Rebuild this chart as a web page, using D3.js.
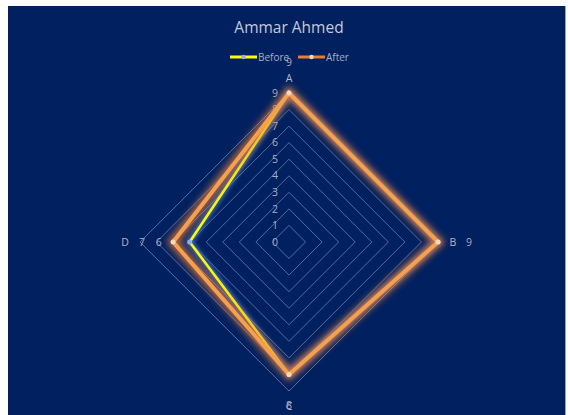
<!DOCTYPE html>
<html>
<head>
<meta charset="utf-8">
<script src="https://cdn.jsdelivr.net/npm/d3@7/dist/d3.min.js"></script>
<style>
  html, body { margin: 0; padding: 0; background: #ffffff; }
  svg { display: block; }
  text { font-family: "Open Sans", "Liberation Sans", sans-serif; }
</style>
</head>
<body>
<svg id="chart" width="568" height="415"></svg>
<script>
// Radar chart data
const categories = ["A", "B", "C", "D"];
const seriesNames = ["Before", "After"];
const beforeValues = [9, 9, 8, 6];
const afterValues = [9, 9, 8, 7];
const tickValues = [0, 1, 2, 3, 4, 5, 6, 7, 8, 9];
const chartTitle = "Ammar Ahmed";

const W = 568, H = 415;
const cx = 289, cy = 242;
const svg = d3.select("#chart");

// Glow filters
const defs = svg.append("defs");
function glow(id, dev) {
  const f = defs.append("filter").attr("id", id)
    .attr("x", "-20%").attr("y", "-20%").attr("width", "140%").attr("height", "140%");
  f.append("feGaussianBlur").attr("stdDeviation", dev);
}
glow("glowOrange", 3.5);
glow("glowBlue", 2.2);

// Chart background
svg.append("rect").attr("x", 8).attr("y", 6).attr("width", 557).attr("height", 415)
  .attr("fill", "#002060");
svg.append("line").attr("x1", 565.5).attr("x2", 565.5).attr("y1", 6).attr("y2", H)
  .attr("stroke", "#9aa3b8").attr("stroke-width", 1);

const r = d3.scaleLinear().domain([0, 9]).range([0, 149]);
const angle = d3.scalePoint().domain(categories).range([0, 2 * Math.PI * (categories.length - 1) / categories.length]);

function pt(cat, v, extra = 0) {
  const a = angle(cat) - Math.PI / 2;
  const d = r(v) + extra;
  return [cx + d * Math.cos(a), cy + d * Math.sin(a)];
}

// Gridlines
const gridLine = d3.line().curve(d3.curveLinearClosed);
svg.append("g").selectAll("path").data(tickValues.filter(t => t > 0)).join("path")
  .attr("d", t => gridLine(categories.map(c => pt(c, t))))
  .attr("fill", "none")
  .attr("stroke", "#8c9fcc")
  .attr("stroke-opacity", 0.6)
  .attr("stroke-width", 1);

// Tick labels along the A axis
svg.append("g").selectAll("text").data(tickValues).join("text")
  .attr("x", cx - 14)
  .attr("y", t => cy - r(t))
  .attr("dy", "0.35em")
  .attr("text-anchor", "middle")
  .attr("font-size", 10.5)
  .attr("fill", "#a6aec4")
  .text(t => t);

// Category labels
svg.append("g").selectAll("text").data(categories).join("text")
  .attr("x", c => pt(c, 9, 15)[0])
  .attr("y", c => pt(c, 9, 15)[1])
  .attr("dy", "0.35em")
  .attr("text-anchor", "middle")
  .attr("font-size", 10.5)
  .attr("fill", "#b0b8cc")
  .text(c => c);

const radarLine = d3.line().curve(d3.curveLinearClosed);
const series = [
  { name: "Before", values: beforeValues, core: "#ffff00", glowC: "#4f86d8", w: 2.5, gw: 6, filter: "glowBlue", marker: "#8fb0e0" },
  { name: "After", values: afterValues, core: "#f4a050", glowC: "#ed7d31", w: 4, gw: 10, filter: "glowOrange", marker: "#fbd9bd" }
];

series.forEach(s => {
  const pts = categories.map((c, i) => pt(c, s.values[i]));
  const g = svg.append("g");
  g.append("path").attr("d", radarLine(pts))
    .attr("fill", "none").attr("stroke", s.glowC).attr("stroke-width", s.gw)
    .attr("stroke-opacity", 0.75).attr("stroke-linejoin", "miter")
    .attr("filter", `url(#${s.filter})`);
  g.append("path").attr("d", radarLine(pts))
    .attr("fill", "none").attr("stroke", s.core).attr("stroke-width", s.w)
    .attr("stroke-linejoin", "miter");
  g.selectAll("circle").data(pts).join("circle")
    .attr("cx", d => d[0]).attr("cy", d => d[1]).attr("r", 2.5)
    .attr("fill", s.marker);
});

// Data labels offset outward from each point; where both series share a
// value the labels coincide, so the shared one is written once.
const labelItems = [];
categories.forEach((c, i) => {
  labelItems.push({ c, v: afterValues[i] });
  if (beforeValues[i] !== afterValues[i]) labelItems.push({ c, v: beforeValues[i] });
});
svg.append("g").selectAll("text").data(labelItems).join("text")
  .attr("x", d => pt(d.c, d.v, 31)[0])
  .attr("y", d => pt(d.c, d.v, 31)[1])
  .attr("dy", "0.35em")
  .attr("text-anchor", "middle")
  .attr("font-size", 10.5)
  .attr("fill", "#a6aec4")
  .text(d => d.v);

// Title
svg.append("text").attr("x", cx).attr("y", 28).attr("dy", "0.35em")
  .attr("text-anchor", "middle").attr("font-size", 15.5)
  .attr("fill", "#c4cad8").text(chartTitle);

// Legend
const legend = [
  { name: seriesNames[0], color: "#ffff00", x: 230, marker: "#8fb0e0" },
  { name: seriesNames[1], color: "#ed7d31", x: 298, marker: "#fbd9bd" }
];
const lg = svg.append("g").selectAll("g").data(legend).join("g")
  .attr("transform", d => `translate(${d.x},57)`);
lg.append("line").attr("x1", 0).attr("x2", 27).attr("y1", 0).attr("y2", 0)
  .attr("stroke", d => d.color).attr("stroke-width", 3);
lg.append("circle").attr("cx", 13.5).attr("cy", 0).attr("r", 2.2).attr("fill", d => d.marker);
lg.append("text").attr("x", 28).attr("y", 0).attr("dy", "0.35em")
  .attr("font-size", 10).attr("fill", "#a6aec4").text(d => d.name);
</script>
</body>
</html>
